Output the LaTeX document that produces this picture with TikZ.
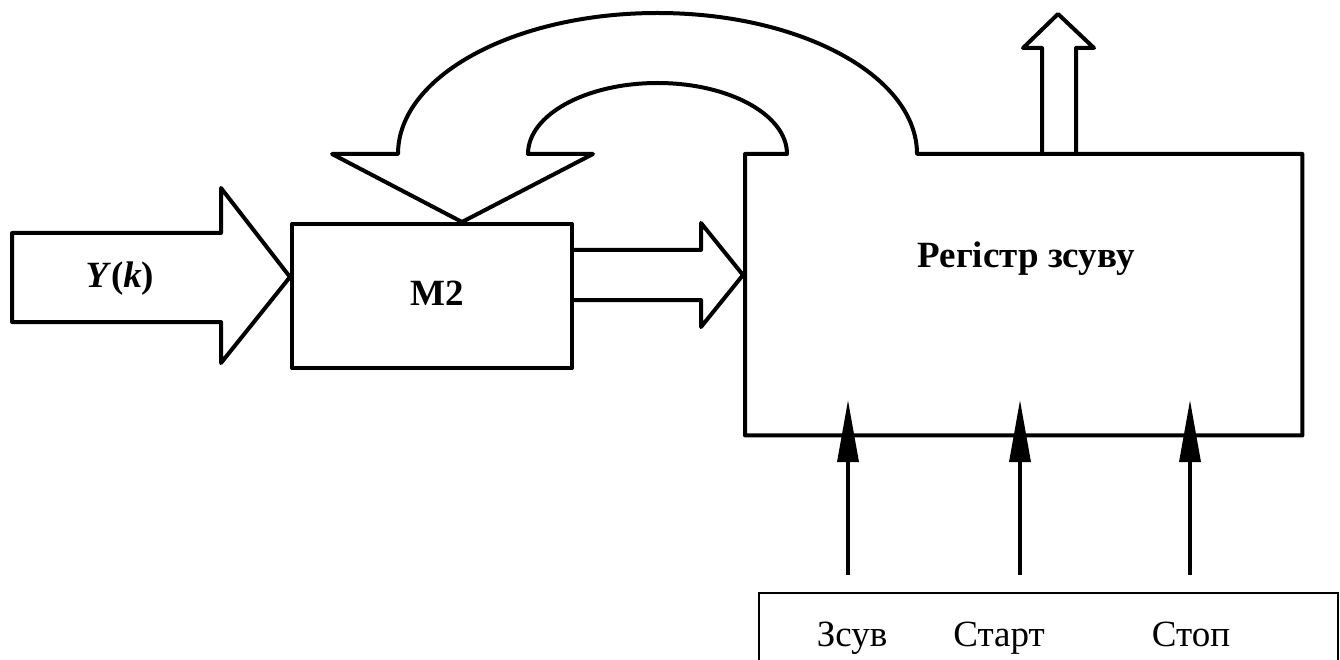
\documentclass[tikz,border=0pt]{standalone}
\usepackage{fontspec}
\setmainfont{Liberation Serif}
\usetikzlibrary{arrows.meta}
\begin{document}
\begin{tikzpicture}[x=1pt,y=-1pt,
  outline/.style={draw, line width=4pt, line join=round},
  lbl/.style={font=\fontsize{37}{44}\selectfont, inner sep=0pt, anchor=base},
  boldlbl/.style={lbl, font=\fontsize{37}{44}\selectfont\bfseries},
  sig/.style={line width=3.4pt, -{Triangle[length=62pt,width=21pt]}},
  panel/.style={draw, line width=2pt, inner sep=0pt}]
\useasboundingbox (0,0) rectangle (1340,660);
\clip (0,0) rectangle (1340,660);

% blocks
\node[outline, minimum width=280pt, minimum height=144pt, inner sep=0pt] (m2) at (432,296) {};
\node[inner sep=0pt, minimum width=557pt, minimum height=281pt, anchor=north west] (reg) at (745,154) {};
\node[panel, minimum width=579pt, minimum height=100pt, anchor=north west] (ctl) at (758,592) {};

% input bus Y(k)
\draw[outline] (12,233) -- (221,233) -- (221,188) -- (290,277) -- (221,363) -- (221,322) -- (12,322) -- cycle;

% bus from M2 into the register
\draw[outline] (572,250) -- (701,250) -- (701,223) -- (743,275) -- (701,327) -- (701,300) -- (572,300);

% register outline with the feedback bus back into M2
\draw[outline] (917,154) -- (reg.north east) -- (reg.south east) -- (reg.south west) -- (reg.north west) -- (787,154)
  arc[start angle=0, end angle=180, x radius=129.5pt, y radius=71pt]
  -- (593,154) -- (462,222) -- (332,154) -- (398,154)
  arc[start angle=180, end angle=0, x radius=259.5pt, y radius=141pt] -- cycle;

% output bus
\draw[outline] (1042,154) -- (1042,48) -- (1023,48) -- (1058,14) -- (1094,48) -- (1076,48) -- (1076,154);

% control lines
\coordinate (s1) at (848,575); \coordinate (e1) at (848,400);
\coordinate (s2) at (1020,575); \coordinate (e2) at (1020,400);
\coordinate (s3) at (1190,575); \coordinate (e3) at (1190,400);
\draw[sig] (s1) -- (e1);
\draw[sig] (s2) -- (e2);
\draw[sig] (s3) -- (e3);

% labels
\node[boldlbl] (ykt) at (120,287) {\textit{Y}(\textit{k})};
\node[boldlbl] (m2t) at (437,305) {M2};
\node[boldlbl] (regt) at (1026,267) {Регістр зсуву};
\node[lbl] (t1) at (852,646) {Зсув};
\node[lbl] (t2) at (999,646) {Старт};
\node[lbl] (t3) at (1191,646) {Стоп};
\end{tikzpicture}
\end{document}
